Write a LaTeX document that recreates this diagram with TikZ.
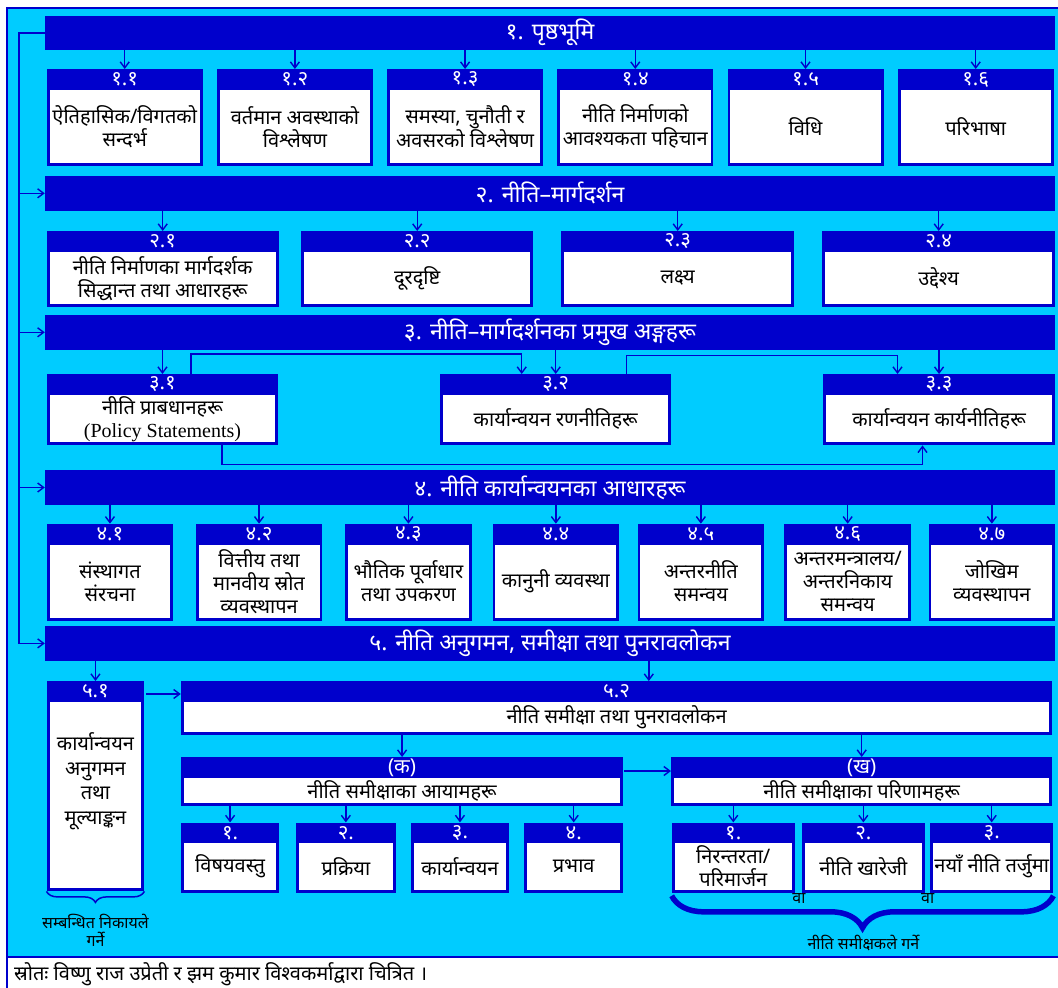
\documentclass[tikz,border=0pt]{standalone}
\usepackage{fontspec}
\setmainfont[Script=Devanagari]{Noto Sans}
\newfontfamily\latinfont{Liberation Serif}
\usetikzlibrary{arrows.meta, positioning, decorations.pathreplacing}
\definecolor{dblue}{HTML}{0000CC}
\definecolor{skyb}{HTML}{00CCFF}

% box with a numbered tab: name, x, y, width, height, number, text
\newcommand{\polbox}[7]{%
  \node[boxframe, minimum width=#4, minimum height=#5, anchor=north west] (#1) at (#2,#3) {};
  \fill[white] ([xshift=3,yshift=-21]#1.north west) rectangle ([xshift=-3,yshift=3]#1.south east);
  \node[tabtxt] (#1n) at ([yshift=-10.5]#1.north) {#6};
  \node[bodytxt] (#1t) at ([yshift=-9]#1.center) {#7};
}

\begin{document}
\begin{tikzpicture}[x=1pt, y=-1pt, >={Straight Barb[length=6pt,width=9pt]},
  conn/.style={->, draw=dblue, line width=1.4pt},
  hdr/.style={fill=dblue, text=white, minimum width=1010, minimum height=34.5,
    inner sep=0, font=\fontsize{23}{26}\selectfont},
  boxframe/.style={fill=dblue, inner sep=0},
  tabtxt/.style={text=white, inner sep=0, font=\fontsize{20.5}{21}\selectfont\bfseries},
  bodytxt/.style={align=center, inner sep=0, font=\fontsize{20}{23}\selectfont},
  lbl/.style={align=center, inner sep=0, font=\fontsize{16}{18}\selectfont}]
  \useasboundingbox (0,0) rectangle (1058,988);

  % frame
  \fill[skyb] (7,8) rectangle (1058,957);
  \draw[dblue, line width=1.5] (1058,8) -- (7,8) -- (7,988);
  \draw[dblue, line width=1.5] (7,957) -- (1058,957);

  % headers
  \node[hdr] (h1) at (550,32.8) {१. पृष्ठभूमि};
  \node[hdr] (h2) at (550,193.3) {२. नीति–मार्गदर्शन};
  \node[hdr] (h3) at (550,332.3) {३. नीति–मार्गदर्शनका प्रमुख अङ्गहरू};
  \node[hdr] (h4) at (550,487.5) {४. नीति कार्यान्वयनका आधारहरू};
  \node[hdr] (h5) at (550,643.4) {५. नीति अनुगमन, समीक्षा तथा पुनरावलोकन};

  % 1
  \polbox{b11}{46.5}{69}{156}{97}{१.१}{ऐतिहासिक/विगतको\\सन्दर्भ}
  \polbox{b12}{216.7}{69}{156}{97}{१.२}{वर्तमान अवस्थाको\\विश्लेषण}
  \polbox{b13}{386.9}{69}{156}{97}{१.३}{समस्या, चुनौती र\\अवसरको विश्लेषण}
  \polbox{b14}{557.1}{69}{156}{97}{१.४}{नीति निर्माणको\\आवश्यकता पहिचान}
  \polbox{b15}{727.3}{69}{156}{97}{१.५}{विधि}
  \polbox{b16}{897.5}{69}{156}{97}{१.६}{परिभाषा}

  % 2
  \polbox{b21}{46.5}{231}{232}{76}{२.१}{नीति निर्माणका मार्गदर्शक\\सिद्धान्त तथा आधारहरू}
  \polbox{b22}{301}{231}{232}{76}{२.२}{दूरदृष्टि}
  \polbox{b23}{561}{231}{233}{76}{२.३}{लक्ष्य}
  \polbox{b24}{822}{231}{233}{76}{२.४}{उद्देश्य}

  % 3
  \polbox{b31}{46.5}{374}{231.5}{71}{३.१}{नीति प्राबधानहरू\\{\latinfont\fontsize{20}{21}\selectfont (Policy Statements)}}
  \polbox{b32}{440}{374}{231}{71}{३.२}{कार्यान्वयन रणनीतिहरू}
  \polbox{b33}{822.7}{374}{232.3}{71}{३.३}{कार्यान्वयन कार्यनीतिहरू}

  % 4
  \polbox{b41}{46.5}{523.7}{126.5}{97}{४.१}{संस्थागत\\संरचना}
  \polbox{b42}{195.6}{523.7}{126.5}{97}{४.२}{वित्तीय तथा\\मानवीय स्रोत\\व्यवस्थापन}
  \polbox{b43}{345}{523.7}{126.5}{97}{४.३}{भौतिक पूर्वाधार\\तथा उपकरण}
  \polbox{b44}{492.4}{523.7}{126.5}{97}{४.४}{कानुनी व्यवस्था}
  \polbox{b45}{637.4}{523.7}{126.5}{97}{४.५}{अन्तरनीति\\समन्वय}
  \polbox{b46}{784.2}{523.7}{126.5}{97}{४.६}{अन्तरमन्त्रालय/\\अन्तरनिकाय\\समन्वय}
  \polbox{b47}{928.4}{523.7}{126.5}{97}{४.७}{जोखिम\\व्यवस्थापन}

  % 5
  \polbox{b51}{46.5}{681}{97.5}{210}{५.१}{}
  \node[bodytxt, font=\fontsize{20}{24.5}\selectfont] (b51x) at ([yshift=5]b51.center) {कार्यान्वयन\\अनुगमन\\तथा\\मूल्याङ्कन};
  \polbox{b52}{180.8}{681}{871.2}{54}{५.२}{नीति समीक्षा तथा पुनरावलोकन}
  \polbox{bka}{180.8}{757}{442.2}{49}{(क)}{नीति समीक्षाका आयामहरू}
  \polbox{bkha}{671}{757}{381}{49}{(ख)}{नीति समीक्षाका परिणामहरू}
  \polbox{ka1}{180.8}{822.4}{98.2}{70}{१.}{विषयवस्तु}
  \polbox{ka2}{296}{822.4}{99.3}{70}{२.}{प्रक्रिया}
  \polbox{ka3}{410.5}{822.4}{98.5}{70}{३.}{कार्यान्वयन}
  \polbox{ka4}{524}{822.4}{99}{70}{४.}{प्रभाव}
  \polbox{kha1}{671.7}{822.4}{122.8}{70}{१.}{निरन्तरता/\\परिमार्जन}
  \polbox{kha2}{802}{822.4}{122.3}{70}{२.}{नीति खारेजी}
  \polbox{kha3}{930}{822.4}{123}{70}{३.}{नयाँ नीति तर्जुमा}

  % left spine
  \coordinate (spine) at (19,0);
  \draw[conn] (h1.west) -- (h1.west -| spine) |- (h5.west);
  \foreach \h in {h2,h3,h4}
    \draw[conn] (\h.west -| spine) -- (\h.west);

  % headers to boxes
  \foreach \i in {1,...,6}
    \draw[conn] (h1.south -| b1\i.north) -- (b1\i.north);
  \foreach \i in {1,...,4}
    \draw[conn] (h2.south -| b2\i.north) -- (b2\i.north);
  \foreach \i in {1,...,3}
    \draw[conn] (h3.south -| b3\i.north) -- (b3\i.north);
  \foreach \i in {1,...,7}
    \draw[conn] (h4.south -| b4\i.north) -- (b4\i.north);

  % links inside 3
  \draw[conn] ([xshift=144.5]b31.north west) -- ++(0,-20) -| ([xshift=81.7]b32.north west);
  \draw[conn] ([xshift=186.4]b32.north west) -- ++(0,-18.4) -| ([xshift=74.8]b33.north west);
  \draw[conn] ([xshift=175.5]b31.south west) -- ++(0,19) -| ([xshift=99.8]b33.south west);

  % 5
  \coordinate (t52) at ([xshift=468]b52.north west);
  \draw[conn] (h5.south -| b51.north) -- (b51.north);
  \draw[conn] (h5.south -| t52) -- (t52);
  \draw[conn, shorten <=2pt] ([yshift=-13]b51.north east) -- ([yshift=-13]b52.north west);
  \foreach \b in {bka,bkha}
    \draw[conn] (b52.south -| \b.north) -- (\b.north);
  \draw[conn, shorten <=1pt] ([yshift=-14]bka.north east) -- ([yshift=-14]bkha.north west);
  \foreach \i in {1,...,4}
    \draw[conn] (bka.south -| ka\i.north) -- (ka\i.north);
  \foreach \i in {1,...,3}
    \draw[conn] (bkha.south -| kha\i.north) -- (kha\i.north);

  % braces
  \draw[dblue, line width=1.5, decorate, decoration={brace, mirror, amplitude=11}]
    (b51.south west) -- (b51.south east);
  \node[lbl, below=23pt of b51] (who1) {सम्बन्धित निकायले\\गर्ने};
  \draw[dblue, line width=5.5, decorate, decoration={brace, mirror, amplitude=32}]
    ([yshift=-3]kha1.south west) -- ([yshift=-3]kha3.south east);
  \node[lbl, below=42pt of kha2] (who2) {नीति समीक्षकले गर्ने};
  \node[lbl, anchor=north] (wa1) at ([xshift=4,yshift=-1]kha1.south east) {वा};
  \node[lbl, anchor=north] (wa2) at ([xshift=3,yshift=-1]kha2.south east) {वा};

  % source
  \node[anchor=west, inner sep=0, font=\fontsize{20}{21}\selectfont] (src) at (14,974)
    {स्रोतः विष्णु राज उप्रेती र झम कुमार विश्वकर्माद्वारा चित्रित ।};
\end{tikzpicture}
\end{document}
